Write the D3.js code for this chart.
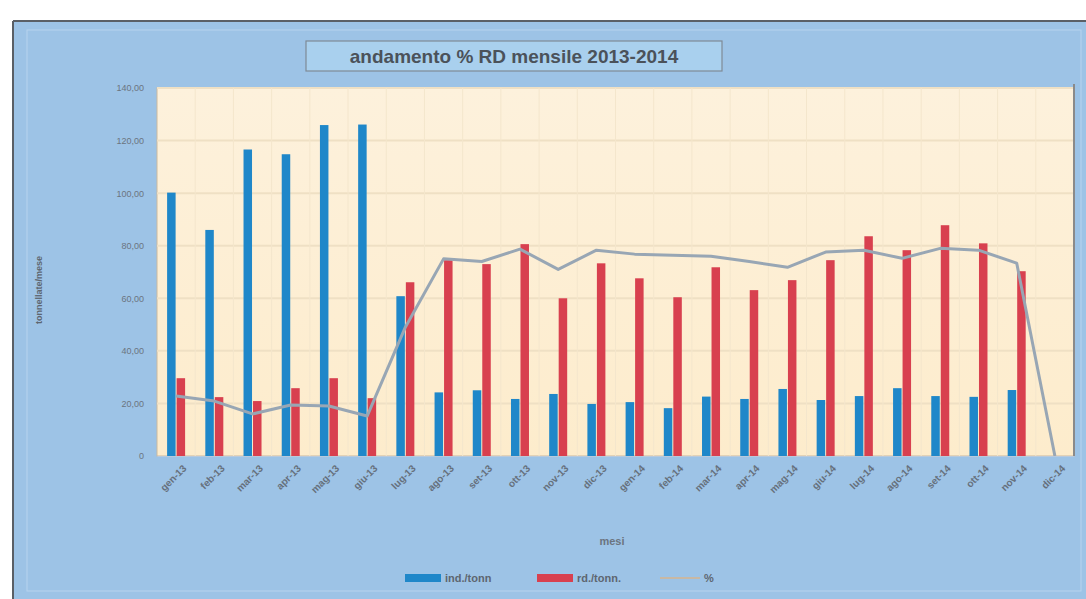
<!DOCTYPE html>
<html>
<head>
<meta charset="utf-8">
<script src="https://cdn.jsdelivr.net/npm/d3@7"></script>
<style>
  body { margin: 0; background: #fff; font-family: "Liberation Sans", Arial, sans-serif; }
</style>
</head>
<body>
<script>
// dati
const mesi = ["gen-13", "feb-13", "mar-13", "apr-13", "mag-13", "giu-13", "lug-13", "ago-13",
  "set-13", "ott-13", "nov-13", "dic-13", "gen-14", "feb-14", "mar-14", "apr-14", "mag-14",
  "giu-14", "lug-14", "ago-14", "set-14", "ott-14", "nov-14", "dic-14"];
const indTonn = [100.2, 86.0, 116.6, 114.8, 125.9, 126.1, 60.8, 24.2, 25.0, 21.7, 23.6, 19.8,
  20.5, 18.2, 22.6, 21.7, 25.5, 21.3, 22.8, 25.8, 22.8, 22.5, 25.1, null];
const rdTonn = [29.6, 22.4, 20.9, 25.8, 29.6, 22.0, 66.1, 74.5, 73.0, 80.6, 60.0, 73.3,
  67.6, 60.4, 71.8, 63.1, 66.9, 74.5, 83.6, 78.3, 87.8, 80.9, 70.3, null];
const perc = [22.8, 20.9, 16.0, 19.4, 19.0, 15.2, 49.0, 75.0, 74.0, 78.7, 71.0, 78.3,
  76.8, 76.4, 76.0, 74.0, 71.8, 77.6, 78.3, 75.2, 79.0, 78.3, 73.4, 0];
const yTicks = [0, 20, 40, 60, 80, 100, 120, 140];

const W = 1086, H = 599;
const svg = d3.select("body").append("svg").attr("width", W).attr("height", H);

// cornice esterna
svg.append("rect").attr("x", 14).attr("y", 21).attr("width", W - 14).attr("height", H - 21)
  .attr("fill", "#9dc3e6");
svg.append("line").attr("x1", 13).attr("x2", W).attr("y1", 21).attr("y2", 21)
  .attr("stroke", "#5a5f66").attr("stroke-width", 2);
svg.append("line").attr("x1", 13).attr("x2", 13).attr("y1", 21).attr("y2", H)
  .attr("stroke", "#5a5f66").attr("stroke-width", 2);
svg.append("rect").attr("x", 27).attr("y", 30).attr("width", W - 32).attr("height", H - 38)
  .attr("fill", "none").attr("stroke", "#b7d3ee").attr("stroke-width", 1);

const plot = { left: 157, right: 1074, top: 88, bottom: 456 };

const x = d3.scaleBand().domain(mesi).range([plot.left, plot.right]);
const y = d3.scaleLinear().domain([0, 140]).range([plot.bottom, plot.top]);

// sfondo area del tracciato
const defs = svg.append("defs");
const grad = defs.append("linearGradient").attr("id", "bg").attr("x1", 0).attr("x2", 0).attr("y1", 0).attr("y2", 1);
grad.append("stop").attr("offset", "0%").attr("stop-color", "#fdf1dc");
grad.append("stop").attr("offset", "100%").attr("stop-color", "#fdeccc");
svg.append("rect").attr("x", plot.left).attr("y", plot.top)
  .attr("width", plot.right - plot.left).attr("height", plot.bottom - plot.top)
  .attr("fill", "url(#bg)").attr("stroke", "#c9b9a0").attr("stroke-width", 1);

// griglia
svg.append("g").selectAll("line").data(yTicks.slice(1)).enter().append("line")
  .attr("x1", plot.left).attr("x2", plot.right)
  .attr("y1", (d) => y(d)).attr("y2", (d) => y(d))
  .attr("stroke", "#efe0c4").attr("stroke-width", 2);
svg.append("g").selectAll("line").data(mesi.slice(1)).enter().append("line")
  .attr("x1", (d) => x(d)).attr("x2", (d) => x(d))
  .attr("y1", plot.top).attr("y2", plot.bottom)
  .attr("stroke", "#f4e6cc").attr("stroke-width", 1);
svg.append("line").attr("x1", plot.right).attr("x2", plot.right)
  .attr("y1", plot.top - 4).attr("y2", plot.bottom)
  .attr("stroke", "#8a8a8a").attr("stroke-width", 2);

// barre
const bw = 8.5;
svg.append("g").selectAll("rect").data(mesi.filter((m, i) => indTonn[i] != null)).enter().append("rect")
  .attr("x", (d) => x(d) + x.bandwidth() / 2 - bw - 0.5)
  .attr("y", (d) => y(indTonn[mesi.indexOf(d)]))
  .attr("width", bw)
  .attr("height", (d) => plot.bottom - y(indTonn[mesi.indexOf(d)]))
  .attr("fill", "#1f87c9");
svg.append("g").selectAll("rect").data(mesi.filter((m, i) => rdTonn[i] != null)).enter().append("rect")
  .attr("x", (d) => x(d) + x.bandwidth() / 2 + 0.5)
  .attr("y", (d) => y(rdTonn[mesi.indexOf(d)]))
  .attr("width", bw)
  .attr("height", (d) => plot.bottom - y(rdTonn[mesi.indexOf(d)]))
  .attr("fill", "#d8404f");

// linea %
const line = d3.line()
  .x((d, i) => x(mesi[i]) + x.bandwidth() / 2)
  .y((d) => y(d));
svg.append("path").datum(perc).attr("d", line)
  .attr("fill", "none").attr("stroke", "#98a6b4").attr("stroke-width", 3)
  .attr("stroke-linejoin", "round");

// assi
const yAxis = svg.append("g").attr("transform", `translate(${plot.left - 10},0)`)
  .call(d3.axisLeft(y).tickValues(yTicks).tickSize(0)
    .tickFormat((d) => (d === 0 ? "0" : d3.format(".2f")(d).replace(".", ","))));
yAxis.select(".domain").remove();
yAxis.selectAll("text").attr("fill", "#6b7480").style("font-size", "9px");

const xAxis = svg.append("g").attr("transform", `translate(0,${plot.bottom})`)
  .call(d3.axisBottom(x).tickSize(0));
xAxis.select(".domain").attr("stroke", "#b8c9dc");
xAxis.selectAll("text")
  .attr("fill", "#66707c")
  .style("font-size", "10px")
  .style("font-weight", "bold")
  .attr("text-anchor", "end")
  .attr("transform", "translate(4,6) rotate(-45)")
  .attr("dy", "0.7em");

// titoli assi
svg.append("text").attr("transform", "translate(42,290) rotate(-90)")
  .attr("text-anchor", "middle").attr("fill", "#5d6670")
  .style("font-size", "9px").style("font-weight", "bold").text("tonnellate/mese");
svg.append("text").attr("x", 612).attr("y", 545).attr("text-anchor", "middle")
  .attr("fill", "#6b7480").style("font-size", "11px").style("font-weight", "bold").text("mesi");

// titolo
svg.append("rect").attr("x", 306).attr("y", 41).attr("width", 416).attr("height", 30)
  .attr("fill", "#a9d0ee").attr("stroke", "#7f8a96").attr("stroke-width", 1.2);
svg.append("text").attr("x", 514).attr("y", 63).attr("text-anchor", "middle")
  .attr("fill", "#4b525a").style("font-size", "19px").style("font-weight", "bold")
  .text("andamento  % RD mensile 2013-2014");

// legenda
const leg = svg.append("g").attr("transform", "translate(405,578)");
const legItems = [
  { label: "ind./tonn", color: "#1f87c9", type: "bar", dx: 0 },
  { label: "rd./tonn.", color: "#d8404f", type: "bar", dx: 132 },
  { label: "%", color: "#c8b8a4", type: "line", dx: 255 }
];
legItems.forEach((it) => {
  const g = leg.append("g").attr("transform", `translate(${it.dx},0)`);
  if (it.type === "bar") {
    g.append("rect").attr("x", 0).attr("y", -4).attr("width", 36).attr("height", 8).attr("fill", it.color);
  } else {
    g.append("line").attr("x1", 0).attr("x2", 40).attr("y1", 0).attr("y2", 0)
      .attr("stroke", it.color).attr("stroke-width", 2);
  }
  g.append("text").attr("x", it.type === "bar" ? 40 : 44).attr("y", 4)
    .attr("fill", "#5d6670").style("font-size", "11px").style("font-weight", "bold").text(it.label);
});
</script>
</body>
</html>
